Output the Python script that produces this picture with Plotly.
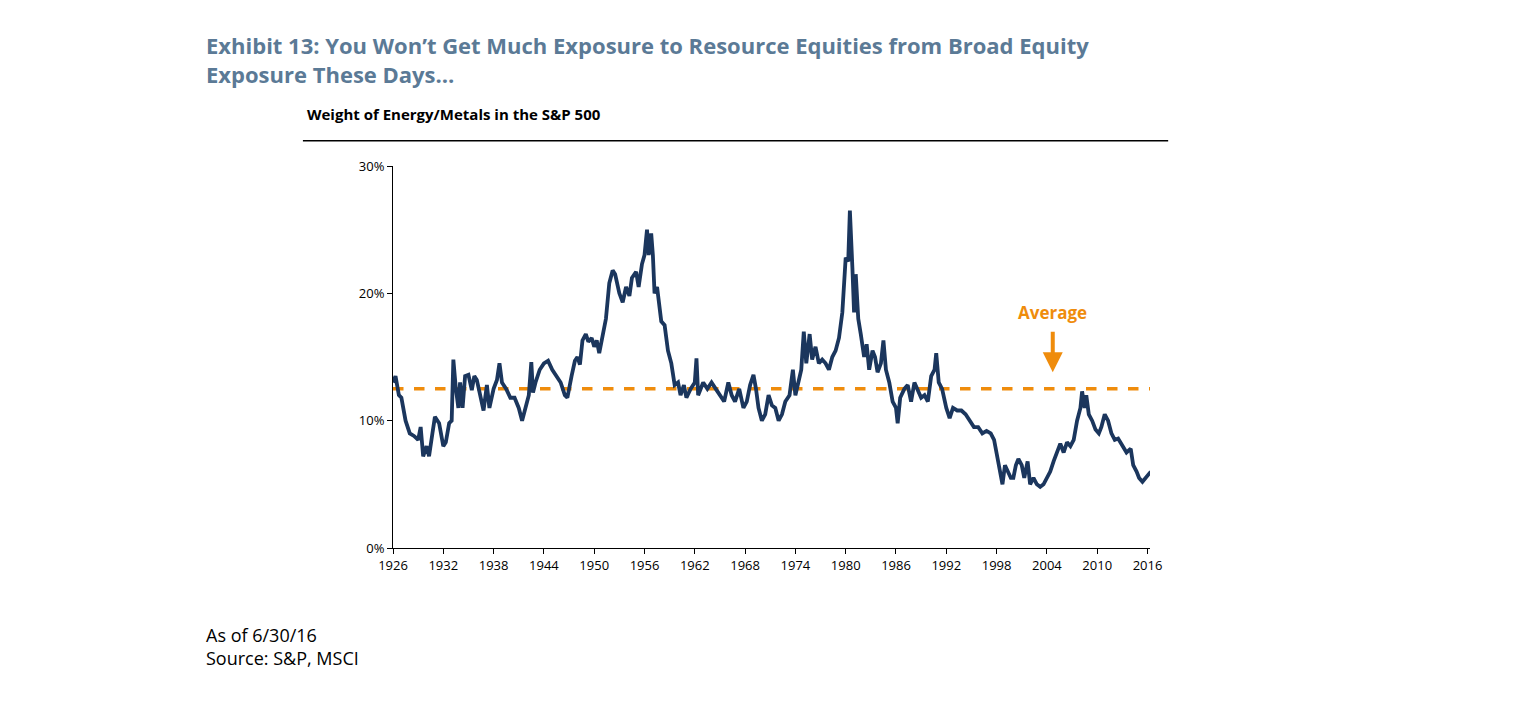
import plotly.graph_objects as go

years = [1926,1926.3,1926.7,1927,1927.5,1928,1928.5,1929,1929.3,1929.6,1930,1930.3,1930.7,1931,1931.5,1932,1932.3,1932.7,1933,1933.2,1933.5,1933.8,1934,1934.3,1934.6,1935,1935.4,1935.7,1936,1936.4,1936.8,1937.2,1937.5,1938,1938.4,1938.7,1939,1939.5,1940,1940.5,1941,1941.4,1941.8,1942.2,1942.5,1942.7,1943,1943.5,1944,1944.5,1945,1945.5,1946,1946.5,1946.8,1947.3,1947.7,1948,1948.3,1948.6,1949,1949.3,1949.7,1950,1950.3,1950.6,1951,1951.4,1951.8,1952.2,1952.5,1953,1953.4,1953.8,1954.2,1954.5,1955,1955.3,1955.7,1956,1956.3,1956.5,1956.8,1957,1957.2,1957.5,1958,1958.4,1958.8,1959.2,1959.6,1960,1960.3,1960.7,1961,1961.5,1962,1962.2,1962.4,1963,1963.5,1964,1964.5,1965,1965.5,1966,1966.4,1966.8,1967.3,1967.8,1968.2,1968.6,1969,1969.3,1969.6,1970,1970.4,1970.8,1971.2,1971.6,1972,1972.4,1972.8,1973.3,1973.7,1974,1974.3,1974.7,1975,1975.3,1975.7,1976,1976.4,1976.8,1977.2,1977.6,1978,1978.4,1978.8,1979.2,1979.6,1980,1980.3,1980.5,1980.8,1981,1981.2,1981.5,1981.8,1982.2,1982.5,1982.8,1983.2,1983.5,1983.8,1984.2,1984.5,1984.8,1985.2,1985.6,1986,1986.2,1986.5,1987,1987.4,1987.8,1988.2,1988.6,1989,1989.4,1989.8,1990.2,1990.6,1990.8,1991.1,1991.5,1992,1992.4,1992.8,1993.3,1993.8,1994.3,1994.8,1995.3,1995.8,1996.3,1996.8,1997.3,1997.7,1998,1998.4,1998.7,1999,1999.4,1999.7,2000,2000.3,2000.6,2001,2001.3,2001.7,2002,2002.4,2002.8,2003.2,2003.6,2004,2004.4,2004.8,2005.2,2005.6,2006,2006.4,2006.8,2007.2,2007.6,2008,2008.2,2008.5,2008.7,2009,2009.4,2009.8,2010.2,2010.5,2010.9,2011.3,2011.7,2012.1,2012.5,2013,2013.5,2014,2014.3,2014.7,2015,2015.4,2015.8,2016.4]
weights = [13.0,13.5,12.0,11.8,10.0,9.0,8.8,8.5,9.5,7.2,8.0,7.2,9.0,10.3,9.8,8.0,8.3,9.8,10.0,14.8,12.5,11.0,13.0,11.0,13.5,13.6,12.4,13.5,13.2,12.0,10.8,12.8,11.0,12.5,13.2,14.5,13.0,12.5,11.8,11.8,11.0,10.0,11.0,12.0,14.6,12.2,13.0,14.0,14.5,14.7,14.0,13.5,13.0,12.0,11.8,13.5,14.7,15.0,14.4,16.3,16.8,16.2,16.5,15.8,16.3,15.3,16.5,18.0,20.8,21.8,21.5,20.0,19.3,20.5,19.8,21.2,21.7,20.5,22.3,23.0,25.0,23.0,24.7,23.0,20.0,20.5,17.8,17.5,15.5,14.5,12.8,13.0,12.0,12.8,11.8,12.5,13.0,14.9,12.0,13.0,12.5,13.0,12.5,12.0,11.5,13.0,12.0,11.5,12.5,11.0,11.5,12.8,13.6,12.5,11.0,10.0,10.5,12.0,11.2,11.0,10.0,10.5,11.5,12.0,14.0,12.0,13.0,14.0,17.0,14.5,16.8,14.8,15.8,14.5,14.8,14.5,14.0,15.0,15.5,16.5,18.5,22.8,22.5,26.5,22.0,18.5,21.5,18.0,16.8,15.0,16.0,14.0,15.5,15.0,13.8,14.5,16.3,14.0,13.0,11.5,11.0,9.8,11.8,12.5,12.8,11.5,13.0,12.3,11.8,12.0,11.5,13.5,14.0,15.3,13.0,12.5,11.0,10.2,11.0,10.8,10.8,10.5,10.0,9.5,9.5,9.0,9.2,9.0,8.5,7.5,6.0,5.0,6.5,6.0,5.5,5.5,6.5,7.0,6.5,5.5,6.8,5.0,5.5,5.0,4.8,5.0,5.5,6.0,6.8,7.5,8.2,7.5,8.3,8.0,8.5,10.0,11.0,12.3,11.0,12.0,10.5,10.0,9.3,9.0,9.5,10.5,10.0,9.0,8.5,8.6,8.0,7.5,7.8,6.5,6.0,5.5,5.2,5.5,6.0]
average = 12.5
avg_years = [1926, 2016.4]
tick_years = [1926,1932,1938,1944,1950,1956,1962,1968,1974,1980,1986,1992,1998,2004,2010,2016]
y_ticks = [0, 10, 20, 30]
y_labels = ["0%", "10%", "20%", "30%"]

orange = "#ef8c0c"
navy = "#1b365d"
font = "'Open Sans', Lato, sans-serif"

fig = go.Figure()
fig.add_trace(go.Scatter(x=avg_years, y=[average]*2, mode="lines",
                         line=dict(color=orange, width=3.5, dash="dash"), hoverinfo="skip"))
fig.add_trace(go.Scatter(x=years, y=weights, mode="lines",
                         line=dict(color=navy, width=3.8)))

fig.update_layout(
    width=1536, height=709, showlegend=False,
    paper_bgcolor="white", plot_bgcolor="white",
    margin=dict(l=385, r=394, t=158, b=169),
    font=dict(family=font, color="black", size=13),
    xaxis=dict(range=[1926, 2016.3], tickvals=tick_years, showgrid=False, zeroline=False,
               showline=True, linecolor="black", linewidth=1, ticks="outside", ticklen=5,
               tickcolor="black", tickfont=dict(size=13)),
    yaxis=dict(range=[0, 30], tickvals=y_ticks, ticktext=y_labels, showgrid=False, zeroline=False,
               showline=True, linecolor="black", linewidth=1, ticks="outside", ticklen=5,
               tickcolor="black", tickfont=dict(size=13)),
)

fig.add_annotation(xref="paper", yref="paper", x=-0.25, y=1.36, xanchor="left", yanchor="top",
                   text="<b>Exhibit 13: You Won’t Get Much Exposure to Resource Equities from Broad Equity<br>Exposure These Days…</b>",
                   showarrow=False, align="left", font=dict(size=22, color="#5b7a96", family=font))
fig.add_annotation(xref="paper", yref="paper", x=-0.116, y=1.105, xanchor="left", yanchor="bottom",
                   text="<b>Weight of Energy/Metals in the S&P 500</b>", showarrow=False,
                   font=dict(size=15, color="black", family=font))
fig.add_shape(type="line", xref="paper", yref="paper", x0=-0.119, x1=1.024, y0=1.066, y1=1.066,
              line=dict(color="black", width=1.5))
fig.add_annotation(xref="paper", yref="paper", x=-0.25, y=-0.19, xanchor="left", yanchor="top",
                   text="As of 6/30/16<br>Source: S&P, MSCI", showarrow=False, align="left",
                   font=dict(size=18, color="black", family=font))
fig.add_annotation(x=2004.7, y=13.8, text="", showarrow=True, arrowhead=2, arrowsize=1,
                   arrowwidth=4, arrowcolor=orange, ax=0, ay=-42)
fig.add_annotation(x=2004.7, y=18.5, text="<b>Average</b>", showarrow=False,
                   font=dict(size=17, color=orange, family=font))

fig.write_html("out.html")
